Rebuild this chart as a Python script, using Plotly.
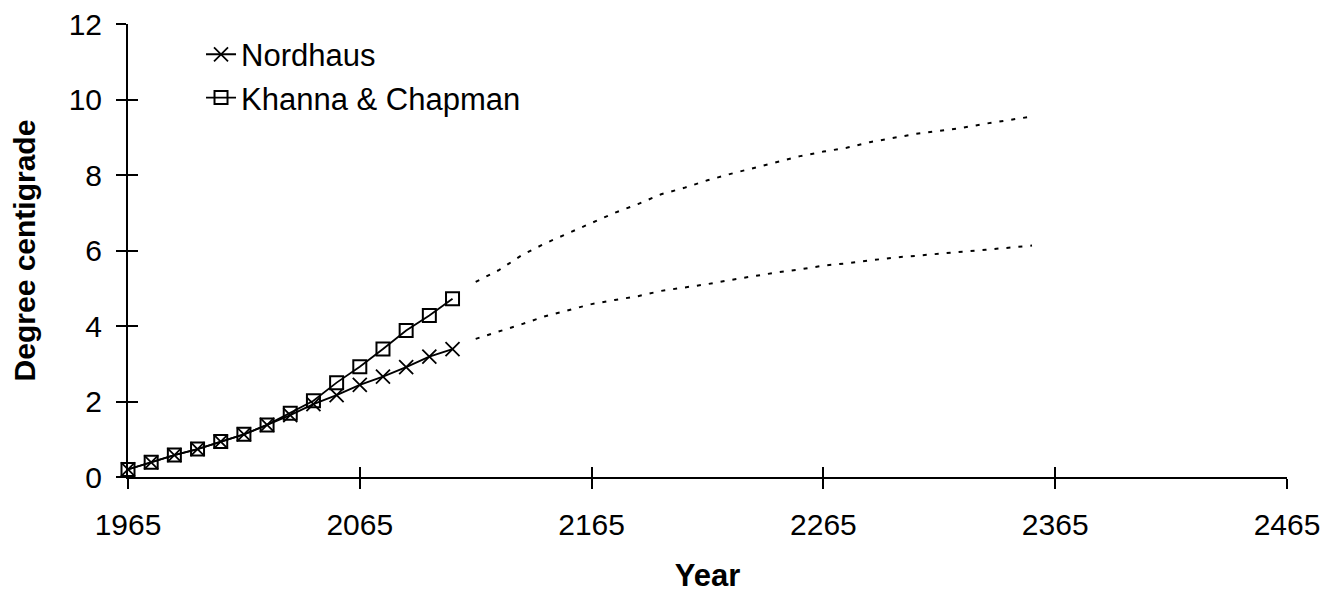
import plotly.graph_objects as go

# ---- data ----
years_hist = [1965, 1975, 1985, 1995, 2005, 2015, 2025, 2035, 2045, 2055,
              2065, 2075, 2085, 2095, 2105]
nordhaus_hist = [0.20, 0.39, 0.58, 0.74, 0.94, 1.13, 1.38, 1.64, 1.93, 2.17,
                 2.44, 2.66, 2.91, 3.19, 3.39]
khanna_hist = [0.20, 0.39, 0.58, 0.74, 0.94, 1.13, 1.38, 1.69, 2.02, 2.50,
               2.92, 3.39, 3.88, 4.28, 4.72]

years_proj = [2115, 2125, 2135, 2145, 2155, 2165, 2175, 2185, 2195, 2205,
              2215, 2225, 2235, 2245, 2255, 2265, 2275, 2285, 2295, 2305,
              2315, 2325, 2335, 2345, 2355]
nordhaus_proj = [3.66, 3.85, 4.05, 4.26, 4.42, 4.58, 4.69, 4.79, 4.93, 5.01,
                 5.11, 5.22, 5.32, 5.42, 5.50, 5.60, 5.66, 5.73, 5.81, 5.86,
                 5.92, 5.97, 6.02, 6.08, 6.13]
khanna_proj = [5.17, 5.48, 5.88, 6.19, 6.46, 6.74, 7.00, 7.23, 7.49, 7.66,
               7.86, 8.03, 8.19, 8.34, 8.50, 8.62, 8.72, 8.87, 8.99, 9.09,
               9.17, 9.25, 9.36, 9.46, 9.55]

x_ticks = [1965, 2065, 2165, 2265, 2365, 2465]
y_ticks = [0, 2, 4, 6, 8, 10, 12]

FONT = "Liberation Sans, Arial, sans-serif"
BLACK = "#000000"

fig = go.Figure()

fig.add_trace(go.Scatter(
    x=years_hist, y=nordhaus_hist, mode="lines+markers", name="Nordhaus",
    legendgroup="n",
    line=dict(color=BLACK, width=1.8),
    marker=dict(symbol="x-thin-open", size=14, color=BLACK,
                line=dict(color=BLACK, width=1.8)),
    cliponaxis=False,
))
fig.add_trace(go.Scatter(
    x=years_hist, y=khanna_hist, mode="lines+markers", name="Khanna & Chapman",
    legendgroup="k",
    line=dict(color=BLACK, width=1.8),
    marker=dict(symbol="square-open", size=13, color=BLACK,
                line=dict(color=BLACK, width=2)),
    cliponaxis=False,
))
fig.add_trace(go.Scatter(
    x=years_proj, y=nordhaus_proj, mode="lines", showlegend=False,
    line=dict(color=BLACK, width=2, dash="4px,8px"),
))
fig.add_trace(go.Scatter(
    x=years_proj, y=khanna_proj, mode="lines", showlegend=False,
    line=dict(color=BLACK, width=2, dash="4px,8px"),
))
# invisible trace so the overlay axes (inner halves of the crossing ticks) render
fig.add_trace(go.Scatter(
    x=[years_hist[0]], y=[y_ticks[0]], xaxis="x2", yaxis="y2", mode="markers",
    marker=dict(opacity=0), showlegend=False, hoverinfo="skip",
))

axis_common = dict(
    showgrid=False, zeroline=False, showline=True, linecolor=BLACK,
    linewidth=2, ticks="outside", ticklen=10, tickwidth=1.5, tickcolor=BLACK,
    tickfont=dict(family=FONT, size=30, color=BLACK), automargin=False,
)

fig.update_layout(
    width=1329, height=593,
    margin=dict(l=128, r=42, t=24, b=116),
    paper_bgcolor="white", plot_bgcolor="white",
    font=dict(family=FONT, color=BLACK),
    xaxis=dict(
        **axis_common, range=[1965, 2465], tickvals=x_ticks,
        ticklabelstandoff=10,
        title=dict(text="<b>Year</b>", font=dict(family=FONT, size=31),
                   standoff=28),
    ),
    yaxis=dict(
        **axis_common, range=[0, 12], tickvals=y_ticks,
        ticklabelstandoff=8,
        title=dict(text="<b>Degree centigrade</b>",
                   font=dict(family=FONT, size=30), standoff=24),
    ),
    xaxis2=dict(overlaying="x", anchor="y", range=[1965, 2465],
                tickvals=x_ticks, ticks="inside", ticklen=10, tickwidth=1.5,
                tickcolor=BLACK, showticklabels=False, showline=False,
                showgrid=False, zeroline=False, side="bottom",
                automargin=False),
    yaxis2=dict(overlaying="y", anchor="x", range=[0, 12],
                tickvals=y_ticks, ticks="inside", ticklen=10, tickwidth=1.5,
                tickcolor=BLACK, showticklabels=False, showline=False,
                showgrid=False, zeroline=False, side="left",
                automargin=False),
    legend=dict(
        x=0.063, y=0.992, xanchor="left", yanchor="top",
        font=dict(family=FONT, size=31, color=BLACK),
        bgcolor="rgba(0,0,0,0)", tracegroupgap=0,
    ),
    showlegend=True,
)

fig.write_html("out.html", config={"displayModeBar": False},
               post_script="document.body.style.margin='0';")
